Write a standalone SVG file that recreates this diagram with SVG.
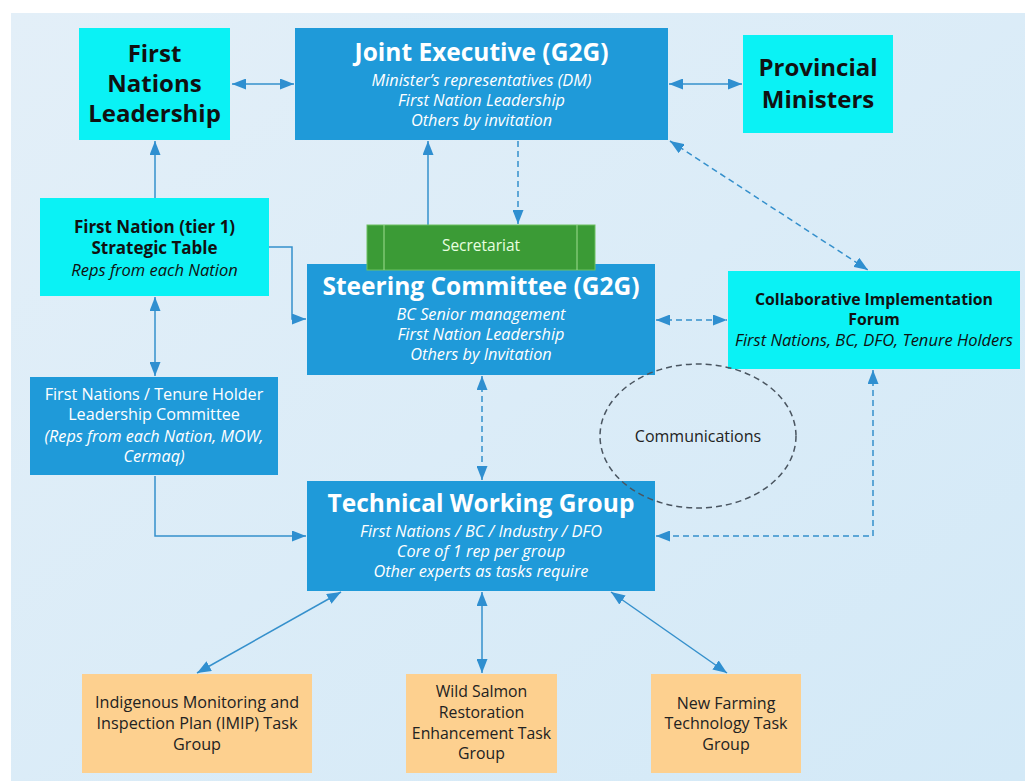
<svg xmlns="http://www.w3.org/2000/svg" width="1025" height="781" viewBox="0 0 1025 781">
<defs>
<linearGradient id="bg" x1="0" y1="0" x2="1" y2="1">
<stop offset="0" stop-color="#e3eff8"/>
<stop offset="1" stop-color="#d3e9f7"/>
</linearGradient>
<marker id="ah" viewBox="0 0 14 11" refX="14" refY="5.5" markerWidth="14" markerHeight="11" markerUnits="userSpaceOnUse" orient="auto-start-reverse">
<path d="M0,0 L14,5.5 L0,11 z" fill="#2f8fd0"/>
</marker>
<style>
.t{font-family:"Open Sans","Noto Sans",sans-serif;text-anchor:middle}
.bk{fill:#111}
.wh{fill:#fff}
.b{font-weight:bold}
.i{font-style:italic}
.cyan{fill:#0af2f5}
.blue{fill:#1f9ad9}
.orange{fill:#fdd08f}
.ln{fill:none;stroke:#3590cc;stroke-width:1.5}
.dash{stroke-dasharray:6 4}
</style>
</defs>
<rect x="0" y="0" width="1025" height="781" fill="#ffffff"/>
<rect x="11" y="13" width="1014" height="768" fill="url(#bg)"/>

<g id="connectors">
<line class="ln" x1="232" y1="84" x2="294" y2="84" marker-start="url(#ah)" marker-end="url(#ah)"/>
<line class="ln" x1="669" y1="84" x2="742" y2="84" marker-start="url(#ah)" marker-end="url(#ah)"/>
<line class="ln" x1="155" y1="198" x2="155" y2="141" marker-end="url(#ah)"/>
<polyline class="ln" points="269,247 292,247 292,319 306,319" marker-end="url(#ah)"/>
<line class="ln" x1="428" y1="225" x2="428" y2="141" marker-end="url(#ah)"/>
<line class="ln dash" x1="518" y1="141" x2="518" y2="224" marker-end="url(#ah)"/>
<line class="ln dash" x1="656" y1="320" x2="727" y2="320" marker-start="url(#ah)" marker-end="url(#ah)"/>
<line class="ln dash" x1="670" y1="141" x2="868" y2="270" marker-start="url(#ah)" marker-end="url(#ah)"/>
<line class="ln" x1="155" y1="297" x2="155" y2="376" marker-start="url(#ah)" marker-end="url(#ah)"/>
<polyline class="ln" points="155,476 155,536 306,536" marker-end="url(#ah)"/>
<line class="ln dash" x1="482" y1="376" x2="482" y2="480" marker-start="url(#ah)" marker-end="url(#ah)"/>
<polyline class="ln dash" points="873,370 873,536 656,536" marker-start="url(#ah)" marker-end="url(#ah)"/>
<line class="ln" x1="341" y1="592" x2="197" y2="673" marker-start="url(#ah)" marker-end="url(#ah)"/>
<line class="ln" x1="482" y1="592" x2="482" y2="673" marker-start="url(#ah)" marker-end="url(#ah)"/>
<line class="ln" x1="611" y1="592" x2="727" y2="673" marker-start="url(#ah)" marker-end="url(#ah)"/>
</g>

<g id="first-nations-leadership">
<rect class="cyan" x="79" y="28" width="151" height="112"/>
<text class="t b bk" font-size="24"><tspan x="154.5" y="62">First</tspan><tspan x="154.5" y="92">Nations</tspan><tspan x="154.5" y="122">Leadership</tspan></text>
</g>

<g id="joint-executive">
<rect class="blue" x="295" y="28" width="373" height="112"/>
<text class="t b wh" x="481.5" y="61" font-size="24.5">Joint Executive (G2G)</text>
<text class="t i wh" font-size="16.3"><tspan x="481.5" y="86">Minister’s representatives (DM)</tspan><tspan x="481.5" y="106">First Nation Leadership</tspan><tspan x="481.5" y="126">Others by invitation</tspan></text>
</g>

<g id="provincial-ministers">
<rect class="cyan" x="743" y="35" width="150" height="98"/>
<text class="t b bk" font-size="24"><tspan x="818" y="76">Provincial</tspan><tspan x="818" y="108">Ministers</tspan></text>
</g>

<g id="strategic-table">
<rect class="cyan" x="40" y="198" width="229" height="98"/>
<text class="t b bk" font-size="17"><tspan x="154.5" y="233">First Nation (tier 1)</tspan><tspan x="154.5" y="254">Strategic Table</tspan></text>
<text class="t i bk" x="154.5" y="276" font-size="16.5">Reps from each Nation</text>
</g>

<g id="steering-committee">
<rect class="blue" x="307" y="264" width="348" height="111"/>
<text class="t b wh" x="481" y="295" font-size="24.5">Steering Committee (G2G)</text>
<text class="t i wh" font-size="16.3"><tspan x="481" y="320">BC Senior management</tspan><tspan x="481" y="340">First Nation Leadership</tspan><tspan x="481" y="360">Others by Invitation</tspan></text>
</g>

<g id="secretariat">
<rect x="367" y="225" width="228" height="45" fill="#3b9b36" stroke="#6cc060" stroke-width="1"/>
<line x1="384" y1="225" x2="384" y2="270" stroke="#9fdc90" stroke-width="1"/>
<line x1="577" y1="225" x2="577" y2="270" stroke="#9fdc90" stroke-width="1"/>
<text class="t" x="481" y="251" font-size="15.5" fill="#e8ffe0">Secretariat</text>
</g>

<g id="collaborative-forum">
<rect class="cyan" x="728" y="271" width="292" height="98"/>
<text class="t b bk" font-size="15.8"><tspan x="874" y="305">Collaborative Implementation</tspan><tspan x="874" y="325">Forum</tspan></text>
<text class="t i bk" x="874" y="346" font-size="16.5">First Nations, BC, DFO, Tenure Holders</text>
</g>

<g id="leadership-committee">
<rect class="blue" x="30" y="377" width="248" height="98"/>
<text class="t wh" font-size="16.2"><tspan x="154" y="400">First Nations / Tenure Holder</tspan><tspan x="154" y="420">Leadership Committee</tspan></text>
<text class="t i wh" font-size="16.2"><tspan x="154" y="442">(Reps from each Nation, MOW,</tspan><tspan x="154" y="462">Cermaq)</tspan></text>
</g>

<g id="technical-working-group">
<rect class="blue" x="307" y="481" width="348" height="110"/>
<text class="t b wh" x="481" y="512" font-size="24.5">Technical Working Group</text>
<text class="t i wh" font-size="16.3"><tspan x="481" y="537">First Nations / BC / Industry / DFO</tspan><tspan x="481" y="557">Core of 1 rep per group</tspan><tspan x="481" y="577">Other experts as tasks require</tspan></text>
</g>

<g id="communications">
<ellipse cx="698" cy="436" rx="98" ry="72" fill="none" stroke="#4a5560" stroke-width="1.5" stroke-dasharray="6 4"/>
<text class="t" x="698" y="442" font-size="16" fill="#222">Communications</text>
</g>

<g id="imip-task-group">
<rect class="orange" x="82" y="674" width="230" height="99"/>
<text class="t" font-size="16.2" fill="#222"><tspan x="197" y="708">Indigenous Monitoring and</tspan><tspan x="197" y="729">Inspection Plan (IMIP) Task</tspan><tspan x="197" y="750">Group</tspan></text>
</g>

<g id="wild-salmon-task-group">
<rect class="orange" x="406" y="674" width="151" height="99"/>
<text class="t" font-size="15.8" fill="#222"><tspan x="481.5" y="697">Wild Salmon</tspan><tspan x="481.5" y="718">Restoration</tspan><tspan x="481.5" y="739">Enhancement Task</tspan><tspan x="481.5" y="759">Group</tspan></text>
</g>

<g id="new-farming-task-group">
<rect class="orange" x="651" y="674" width="150" height="99"/>
<text class="t" font-size="16" fill="#222"><tspan x="726" y="709">New Farming</tspan><tspan x="726" y="729">Technology Task</tspan><tspan x="726" y="750">Group</tspan></text>
</g>
</svg>
